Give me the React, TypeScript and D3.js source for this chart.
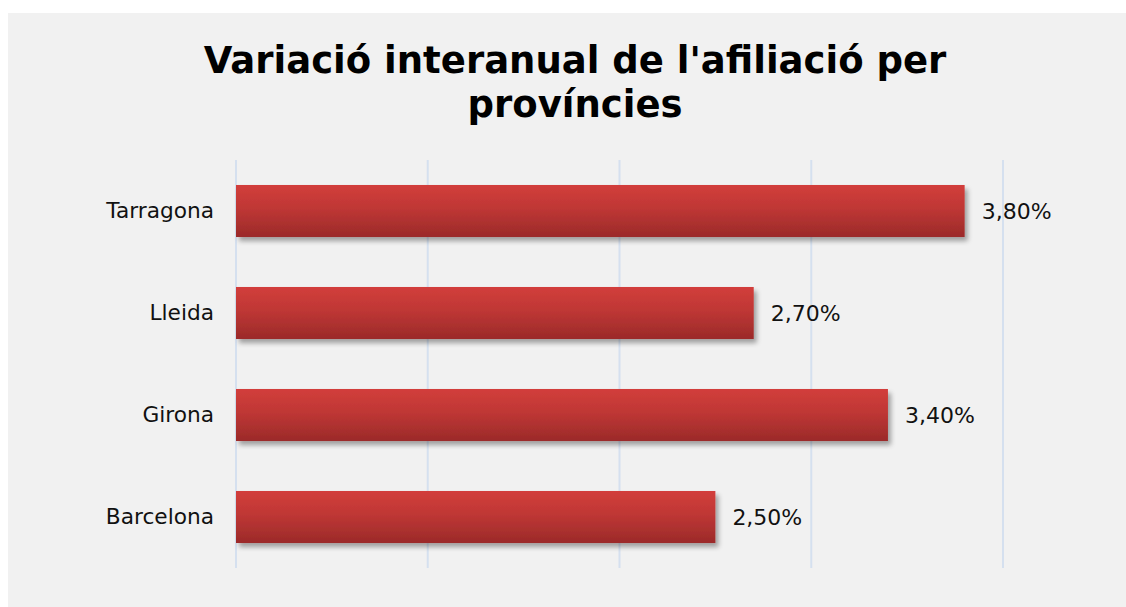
import React from "react";
import * as d3 from "d3";

const categories = ["Tarragona", "Lleida", "Girona", "Barcelona"];
const values = [3.8, 2.7, 3.4, 2.5];
const xTicks = [0, 1, 2, 3, 4];
const titleLines = ["Variació interanual de l'afiliació per", "províncies"];

const W = 1126;
const H = 607;

export default function App() {
  const x = d3.scaleLinear().domain([0, 4]).range([236, 1003]);
  const y = d3.scaleBand<string>().domain(categories).range([160, 568]).paddingInner(0.49).paddingOuter(0.245);
  const fmt = (v: number) => v.toFixed(2).replace(".", ",") + "%";
  const font = "'DejaVu Sans', Verdana, sans-serif";
  return (
    <svg width={W} height={H} style={{ position: "absolute", left: 0, top: 0 }}>
      <defs>
        <linearGradient id="barGrad" x1="0" y1="0" x2="0" y2="1">
          <stop offset="0" stopColor="#d23e3b" />
          <stop offset="0.45" stopColor="#bf3735" />
          <stop offset="1" stopColor="#9b2a29" />
        </linearGradient>
        <filter id="shadow" x="-5%" y="-20%" width="115%" height="160%">
          <feGaussianBlur in="SourceAlpha" stdDeviation="2.5" />
          <feOffset dx="3" dy="4" result="b" />
          <feComponentTransfer>
            <feFuncA type="linear" slope="0.35" />
          </feComponentTransfer>
          <feMerge>
            <feMergeNode />
            <feMergeNode in="SourceGraphic" />
          </feMerge>
        </filter>
      </defs>
      <rect x={8} y={13} width={W - 8} height={H - 13} fill="#f1f1f1" />
      {xTicks.map((t) => (
        <line key={t} x1={x(t)} x2={x(t)} y1={160} y2={568} stroke="#d5e0ef" strokeWidth={2} />
      ))}
      {titleLines.map((l, i) => (
        <text key={i} x={575} y={73 + i * 44} textAnchor="middle" fontFamily={font} fontWeight="bold" fontSize={37} fill="#000">
          {l}
        </text>
      ))}
      {categories.map((c, i) => {
        const yy = y(c)!;
        const bw = y.bandwidth();
        return (
          <g key={c}>
            <rect x={x(0)} y={yy} width={x(values[i]) - x(0)} height={bw} fill="url(#barGrad)" filter="url(#shadow)" />
            <text x={214} y={yy + bw / 2} dy="0.33em" textAnchor="end" fontFamily={font} fontSize={21.7} fill="#111">
              {c}
            </text>
            <text x={x(values[i]) + 17} y={yy + bw / 2} dy="0.36em" textAnchor="start" fontFamily={font} fontSize={22} fill="#111">
              {fmt(values[i])}
            </text>
          </g>
        );
      })}
    </svg>
  );
}
